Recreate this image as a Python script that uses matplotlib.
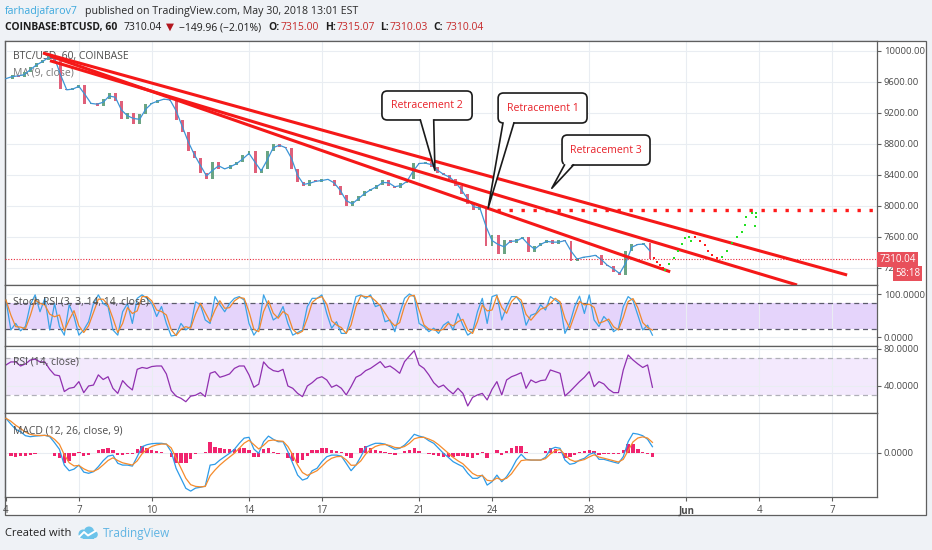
import numpy as np
import pandas as pd
import matplotlib
matplotlib.use("Agg")
from matplotlib import pyplot as plt
from matplotlib.patches import FancyBboxPatch, Rectangle, Polygon, Circle

plt.rcParams['font.family'] = ['Open Sans', 'DejaVu Sans']

# ---- values (day 0 = May 4 00:00) ----
price_step = 0.25
close = [
    9640, 9690, 9660, 9720, 9790, 9840, 9880, 9940, 9870, 9500,
    9490, 9520, 9560, 9310, 9330, 9290, 9380, 9450, 9350, 9120,
    9200, 9050, 9180, 9310, 9330, 9370, 9380, 9350, 9100, 8950,
    8700, 8620, 8420, 8350, 8560, 8470, 8480, 8530, 8560, 8650,
    8700, 8420, 8480, 8700, 8800, 8760, 8740, 8480, 8300, 8250,
    8330, 8300, 8350, 8330, 8260, 8140, 7990, 8060, 8120, 8190,
    8220, 8270, 8330, 8260, 8230, 8290, 8340, 8550, 8540, 8560,
    8500, 8420, 8390, 8350, 8250, 8150, 8020, 7950, 7990, 7480,
    7620, 7380, 7560, 7520, 7570, 7600, 7400, 7480, 7520, 7560,
    7500, 7560, 7540, 7290, 7330, 7340, 7350, 7370, 7240, 7220,
    7150, 7100, 7420, 7510, 7490, 7520, 7310,
]

osc_step = 0.2
stoch_k = [
    86, 17, 32, 15, 25, 75, 98, 59, 90, 17,
    78, 25, 5, 75, 48, 5, 17, 36, 78, 98,
    78, 71, 17, 5, 59, 78, 32, 90, 98, 90,
    78, 48, 71, 32, 3, 5, 32, 17, 25, 82,
    75, 40, 32, 94, 75, 59, 78, 90, 94, 86,
    32, 5, 21, 98, 71, 40, 48, 71, 32, 5,
    11, 17, 71, 90, 90, 98, 55, 21, 36, 9,
    9, 48, 94, 98, 90, 98, 71, 75, 36, 40,
    13, 55, 90, 100, 94, 32, 25, 13, 21, 9,
    28, 36, 17, 55, 28, 5, 13, 59, 90, 32,
    94, 98, 40, 71, 94, 94, 78, 28, 51, 55,
    75, 63, 94, 86, 78, 9, 32, 71, 95, 55,
    98, 40, 25, 48, 36, 13, 21, 71, 94, 85,
    51, 17, 28, 5,
]
rsi = [
    62.7, 66, 66, 61.6, 63.8, 68, 69, 66, 66, 58,
    52, 51, 34, 37.5, 38.5, 44.7, 32.8, 40, 41, 52,
    47, 50, 37.5, 32, 45.8, 40, 35.7, 58, 60, 59,
    61, 61.6, 61.6, 53, 35, 29, 26.7, 23, 29, 30,
    32.8, 28.5, 53.7, 55.5, 49.4, 51, 53, 59, 61.6, 61.6,
    52, 38.6, 42, 66, 60, 56.6, 55.5, 58, 40, 37.5,
    32, 28.5, 40, 43.6, 48.3, 50, 46.5, 38.6, 41, 37.5,
    30.3, 39.3, 49.4, 52, 56.6, 59, 62.7, 66.3, 60, 61.6,
    58, 53.7, 66.3, 72.4, 78.2, 62.7, 59, 52, 43.6, 38.6,
    41, 35.7, 31.4, 37.5, 32, 18.4, 27.7, 30.3, 32, 24.9,
    36.4, 44.7, 30.3, 46.5, 50, 52, 54.4, 37.5, 46.5, 43.6,
    45.8, 46.5, 57.3, 55.5, 53.7, 29.2, 33.9, 39.3, 44.7, 49.4,
    55.5, 39.3, 44.7, 42.2, 36.4, 32.8, 32.8, 57.3, 73.5, 68.1,
    63.8, 60, 62.7, 38.6,
]
macd = [
    172, 143, 117, 105, 85, 80, 83, 85, 87, 80,
    50, 17, -62, -90, -82, -62, -97, -103, -95, -70,
    -40, -17, -12, -53, -62, -62, -67, -20, 30, 40,
    45, 47, 47, 43, 5, -78, -128, -178, -192, -177,
    -173, -167, -62, -58, -37, -20, -3, 17, 47, 73,
    77, 18, -3, 55, 83, 67, 55, 55, 5, -53,
    -112, -137, -128, -90, -78, -45, -20, -12, -12, -17,
    -53, -90, -62, -20, 27, 38, 47, 47, 43, 30,
    17, 22, 38, 63, 92, 83, 77, 60, 47, 22,
    -3, -23, -45, -58, -70, -103, -128, -128, -112, -162,
    -145, -112, -145, -120, -83, -37, -8, -33, -37, -37,
    -37, -23, 17, 27, 22, -37, -58, -53, -37, -28,
    -8, 0, -33, -33, -40, -47, -53, -20, 55, 97,
    93, 85, 67, 30,
]

date_ticks = [0, 3, 6, 10, 13, 17, 20, 24, 28, 31, 34]
date_labels = ['4', '7', '10', '14', '17', '21', '24', '28', 'Jun', '4', '7']
price_ticks = [7200, 7600, 8000, 8400, 8800, 9200, 9600, 10000]

last_price = 7310.04
target_level = 7951
target_start = 20.2

# drawn trend lines: (day, price) end points
trend_lines = [
    [(1.52, 9970), (34.61, 7106)],
    [(1.81, 9871), (32.55, 6977)],
    [(1.81, 9932), (27.33, 7148)],
]

# hand-drawn projection dots
red_dot_days = [26.67, 26.79, 26.91, 27.04, 28.35, 28.55, 28.75, 28.9, 29.05, 29.25]
red_dot_price = [7325, 7273, 7234, 7196, 7590, 7545, 7490, 7410, 7360, 7330]
green_dot_days = [27.12, 27.3, 27.47, 27.65, 27.8, 27.95, 28.1, 28.2,
                  29.45, 29.65, 29.88, 30.08, 30.28, 30.42, 30.45, 30.7, 30.88, 30.85, 30.83]
green_dot_price = [7170, 7250, 7330, 7416, 7500, 7580, 7600, 7550,
                   7340, 7410, 7520, 7600, 7665, 7750, 7860, 7905, 7910, 7850, 7740]

# callouts: label, box (day0, day1, top, bottom), pointer base (day0, day1), tip (day, price)
callouts = [
    ("Retracement 2", (15.47, 19.18, 9480, 9106), (17.05, 17.6), (17.65, 8455)),
    ("Retracement 1", (20.25, 23.91, 9454, 9067), (20.45, 20.9), (19.84, 7970)),
    ("Retracement 3", (22.88, 26.5, 8912, 8525), (22.98, 23.35), (22.46, 8225)),
]

# ---- layout ----
W, H = 932, 550
BG = '#eff2f6'
EDGE = '#5f5f5f'
GRID = '#e9edf2'
TXT = '#4a4a4a'
XMIN, XMAX = -0.04, 35.84


def rect(top, bottom, left=5, right=877):
    return [left / W, 1 - bottom / H, (right - left) / W, (bottom - top) / H]


fig = plt.figure(figsize=(W / 100, H / 100), dpi=100, facecolor=BG)
fig.add_artist(Rectangle((5 / W, 1 - 515 / H), 921 / W, 474 / H, transform=fig.transFigure,
                         fc='white', ec=EDGE, lw=0.9, zorder=-5))

ax = fig.add_axes(rect(41, 285))
ax_st = fig.add_axes(rect(285, 346))
ax_rsi = fig.add_axes(rect(346, 413))
ax_m = fig.add_axes(rect(413, 497))

limits = [(ax, 6977, 10125), (ax_st, -20.1, 120.8), (ax_rsi, 10.8, 83.2), (ax_m, -221.5, 198.5)]
for a, lo, hi in limits:
    a.set_xlim(XMIN, XMAX)
    a.set_ylim(lo, hi)
    a.set_facecolor('white')
    for s in a.spines.values():
        s.set_color(EDGE)
        s.set_linewidth(0.9)
    a.set_xticks(date_ticks)
    a.grid(axis='both', color=GRID, lw=0.8, zorder=0)
    a.set_axisbelow(True)
    a.yaxis.tick_right()
    a.tick_params(axis='y', direction='out', length=3, width=0.8, color=EDGE,
                  labelsize=6.8, labelcolor=TXT, pad=2)
    a.tick_params(axis='x', bottom=False, labelbottom=False)

ax.set_yticks(price_ticks)
ax.set_yticklabels([f'{v:.2f}' for v in price_ticks])
ax_st.set_yticks([0, 100])
ax_st.set_yticklabels(['0.0000', '100.0000'])
ax_rsi.set_yticks([40, 80])
ax_rsi.set_yticklabels(['40.0000', '80.0000'])
ax_m.set_yticks([0])
ax_m.set_yticklabels(['0.0000'])

ax_m.tick_params(axis='x', bottom=True, labelbottom=True, direction='out', length=3,
                 width=0.8, color=EDGE, labelsize=7, labelcolor=TXT, pad=3)
ax_m.set_xticklabels(date_labels)
for lab in ax_m.get_xticklabels():
    if lab.get_text() == 'Jun':
        lab.set_fontweight('bold')

# ---- price panel ----
c = np.array(close, dtype=float)
o = np.r_[c[0], c[:-1]]
t = np.arange(len(c)) * price_step
body = c - o
body = np.where(np.abs(body) < 12, np.where(body >= 0, 12, -12), body)
up = c >= o
ax.bar(t[up], body[up], bottom=o[up], width=0.12, color='#6ba583', lw=0, zorder=2)
ax.bar(t[~up], body[~up], bottom=o[~up], width=0.12, color='#e0607a', lw=0, zorder=2)
ma = pd.Series(c).rolling(2, min_periods=1).mean()
ax.plot(t, ma, color='#3d95d6', lw=0.9, zorder=3)

ax.axhline(last_price, color='#e8283a', lw=0.8, ls=(0, (1, 1.5)), zorder=3)
ax.hlines(target_level, target_start, XMAX, color='#ff1a1a', lw=2.4, ls=(0, (1, 2.6)), zorder=4)

for (d0, p0), (d1, p1) in trend_lines:
    ax.plot([d0, d1], [p0, p1], color='#f51818', lw=2.2, solid_capstyle='butt', zorder=5)

ax.scatter(red_dot_days, red_dot_price, s=4, marker='s', color='#ff1a1a', lw=0, zorder=5)
ax.scatter(green_dot_days, green_dot_price, s=4, marker='s', color='#22e022', lw=0, zorder=5)

# callout boxes
ax_px = fig.get_figwidth() * fig.dpi * (872 / W)
ay_px = fig.get_figheight() * fig.dpi * (244 / H)
asp = ((10125 - 6977) / ay_px) / ((XMAX - XMIN) / ax_px)
for label, (d0, d1, p_top, p_bot), (b0, b1), (td, tp) in callouts:
    ax.add_patch(FancyBboxPatch((d0, p_bot), d1 - d0, p_top - p_bot,
                                boxstyle='round,pad=0,rounding_size=0.22', mutation_aspect=asp,
                                fc='white', ec='#1a1a1a', lw=1.2, zorder=6))
    ax.add_patch(Polygon([(b0, p_bot + 30), (td, tp), (b1, p_bot + 30)], closed=True,
                         fc='white', ec='none', zorder=7))
    ax.plot([b0, td, b1], [p_bot, tp, p_bot], color='#1a1a1a', lw=1.2, zorder=8)
    ax.text((d0 + d1) / 2, (p_top + p_bot) / 2, label, ha='center', va='center',
            color='#e8222a', fontsize=7.6, zorder=9)

ax.text(8 / 872, (285 - 57) / 244, 'BTC/USD, 60, COINBASE', transform=ax.transAxes,
        ha='left', va='center', fontsize=7.5, color='#4d4d4d', zorder=1)
ax.text(8 / 872, (285 - 73) / 244, 'MA (9, close)', transform=ax.transAxes,
        ha='left', va='center', fontsize=7.5, color='#777777', zorder=1)

# price labels on the scale
ytr = ax.get_yaxis_transform()
ax.text(1.003, last_price, '7310.04', transform=ytr, ha='left', va='center', color='white',
        fontsize=7, clip_on=False, zorder=10,
        bbox=dict(boxstyle='square,pad=0.22', fc='#e8505b', ec='none'))
ax.text(1.0495, 7128, '58:18', transform=ytr, ha='right', va='center', color='white',
        fontsize=7, clip_on=False, zorder=10,
        bbox=dict(boxstyle='square,pad=0.22', fc='#e8505b', ec='none'))

# ---- Stoch RSI ----
to = np.arange(len(stoch_k)) * osc_step
k = pd.Series(stoch_k, dtype=float)
d = k.rolling(2, min_periods=1).mean()
ax_st.axhspan(20, 80, color='#e5d4fb', lw=0, zorder=0.5)
for lvl in (80, 20):
    ax_st.axhline(lvl, color='#5b5b6b', lw=0.9, ls=(0, (4, 3)), zorder=1)
ax_st.plot(to, k, color='#3ba3e6', lw=0.9, zorder=2)
ax_st.plot(to, d, color='#f0892d', lw=0.9, zorder=3)
ax_st.text(8 / 872, (346 - 302) / 61, 'Stoch RSI (3, 3, 14, 14, close)', transform=ax_st.transAxes,
           ha='left', va='center', fontsize=7.5, color='#4d4d4d', zorder=4)

# ---- RSI ----
tr = np.arange(len(rsi)) * osc_step
ax_rsi.axhspan(30, 70, color='#f3e9fd', lw=0, zorder=0.5)
for lvl in (70, 30):
    ax_rsi.axhline(lvl, color='#b0b0b8', lw=0.9, ls=(0, (4, 3)), zorder=1)
ax_rsi.plot(tr, rsi, color='#9030b0', lw=0.9, zorder=2)
ax_rsi.text(8 / 872, (413 - 362) / 67, 'RSI (14, close)', transform=ax_rsi.transAxes,
            ha='left', va='center', fontsize=7.5, color='#4d4d4d', zorder=4)

# ---- MACD ----
tm = np.arange(len(macd)) * osc_step
m = pd.Series(macd, dtype=float)
sig = m.ewm(span=3, adjust=False).mean()
hist = m - sig
ax_m.bar(tm, hist, width=osc_step * 0.7, color='#f0246e', lw=0, zorder=1)
ax_m.plot(tm, m, color='#2d9be8', lw=0.9, zorder=2)
ax_m.plot(tm, sig, color='#f58b2c', lw=0.9, zorder=3)
ax_m.text(8 / 872, (497 - 431) / 84, 'MACD (12, 26, close, 9)', transform=ax_m.transAxes,
          ha='left', va='center', fontsize=7.5, color='#4d4d4d', zorder=4)

# ---- header ----
y1 = 1 - 11.5 / H
fig.text(5 / W, y1, 'farhadjafarov7', color='#3ba8dd', fontsize=7.7, va='center')
fig.text(85 / W, y1, 'published on TradingView.com, May 30, 2018 13:01 EST', color='#2a2a2a',
         fontsize=7.7, va='center')

y2 = 1 - 27.5 / H
RED = '#c62a2a'
header = [
    (5, 'COINBASE:BTCUSD, 60', '#1e1e1e', 'bold'),
    (124, '7310.04', '#1e1e1e', 'normal'),
    (166, '\u25bc', '#b3171f', 'normal'),
    (179, '\u2212149.96 (\u22122.01%)', '#1e1e1e', 'normal'),
    (268, 'O:', '#1e1e1e', 'bold'),
    (281, '7315.00', RED, 'normal'),
    (325, 'H:', '#1e1e1e', 'bold'),
    (337, '7315.07', RED, 'normal'),
    (380, 'L:', '#1e1e1e', 'bold'),
    (390, '7310.03', RED, 'normal'),
    (433, 'C:', '#1e1e1e', 'bold'),
    (446, '7310.04', RED, 'normal'),
]
for x, s, col, wt in header:
    fig.text(x / W, y2, s, color=col, fontsize=7.5, fontweight=wt, va='center')

# ---- footer ----
fig.text(5 / W, 1 - 533 / H, 'Created with', color='#222222', fontsize=8, va='center')
fig.text(103 / W, 1 - 533 / H, 'TradingView', color='#5fb4e3', fontsize=8.5, va='center')
logo = fig.add_axes([77 / W, 1 - 541 / H, 21 / W, 16 / H])
logo.set_xlim(0, 21)
logo.set_ylim(0, 16)
logo.axis('off')
for cx, cy, r in [(6, 7, 4.5), (12, 9.5, 5), (17, 6.5, 3.8)]:
    logo.add_patch(Circle((cx, cy), r, fc='#6cc3ea', ec='none'))
logo.add_patch(Rectangle((6, 2.5), 11, 4, fc='#6cc3ea', ec='none'))
logo.plot([2.5, 7, 11, 18.5], [4.5, 9, 5.5, 10], color='white', lw=1.4)

fig.savefig('out.png', dpi=100, facecolor=BG)
